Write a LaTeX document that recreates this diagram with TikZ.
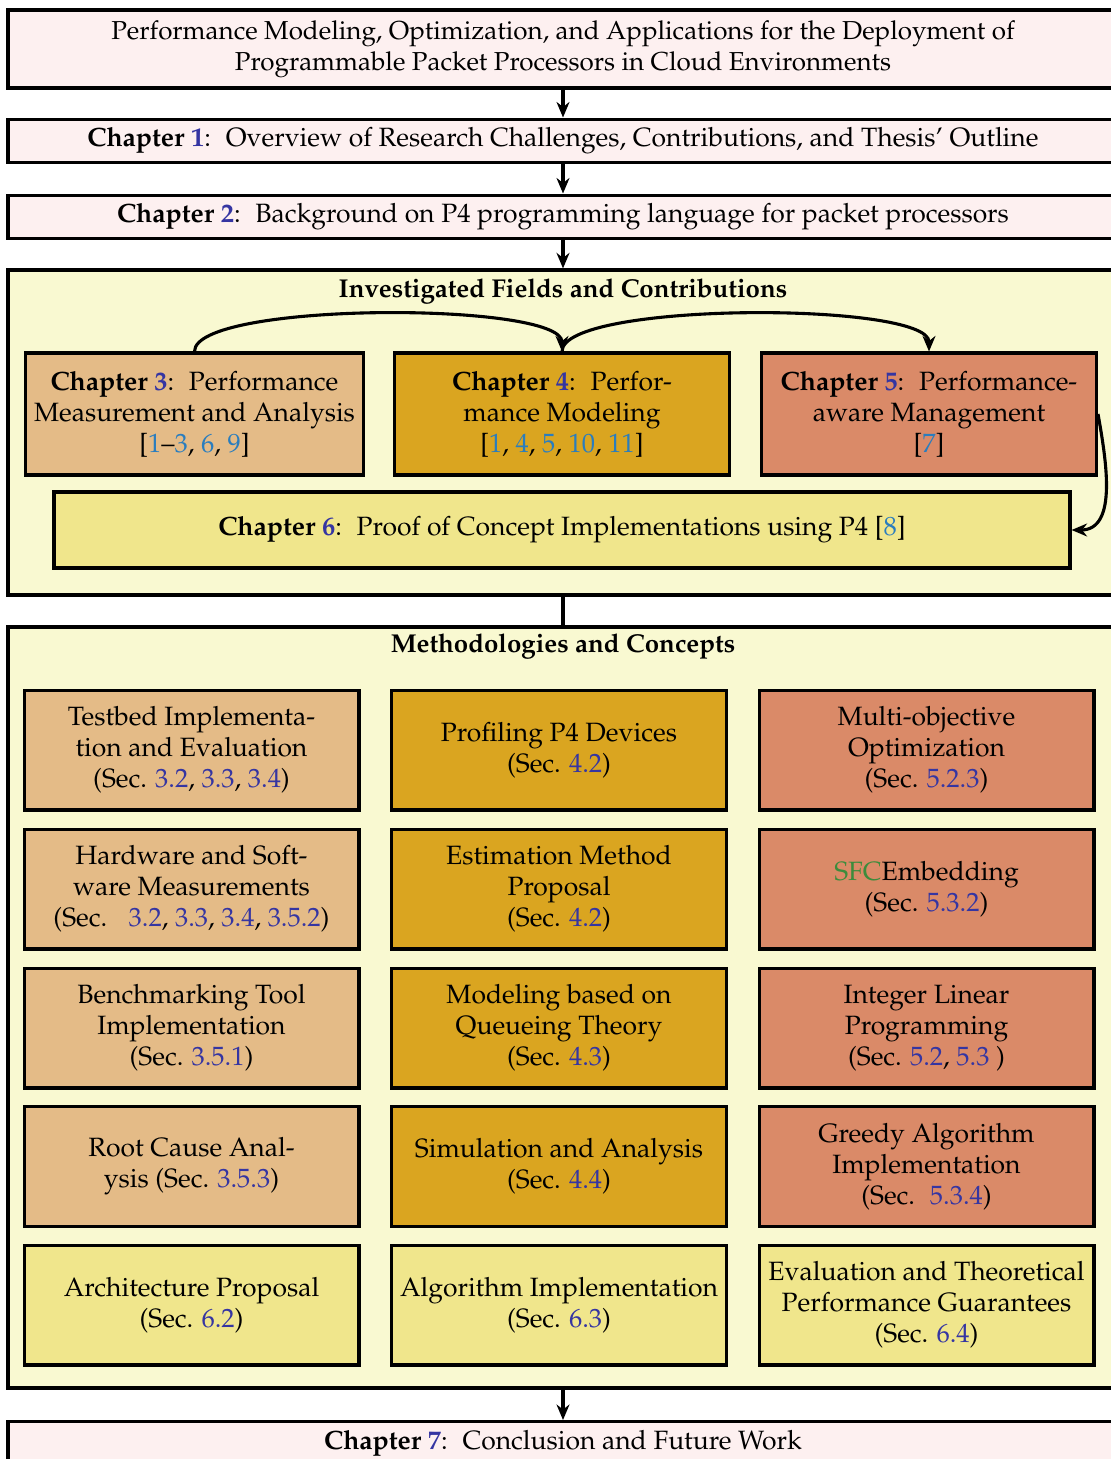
\documentclass[tikz,border=0pt]{standalone}
\usepackage[T1]{fontenc}
\usepackage{mathpazo}
\usepackage{xcolor}
\usepackage{tikz}
\usetikzlibrary{arrows.meta, positioning, calc}
\definecolor{thpink}{HTML}{FDF0F0}
\definecolor{thyellow}{HTML}{F9F9D1}
\definecolor{thburly}{HTML}{E4BB87}
\definecolor{thgold}{HTML}{DAA520}
\definecolor{thsalmon}{HTML}{DA8A68}
\definecolor{thkhaki}{HTML}{F0E68C}
\definecolor{thchap}{HTML}{3535A2}
\definecolor{thcite}{HTML}{2A7DBE}
\definecolor{thgreen}{HTML}{3C8C3C}
\newcommand{\chnum}[1]{\textcolor{thchap}{#1}}
\newcommand{\bibnum}[1]{\textcolor{thcite}{#1}}
\newcommand{\secnum}[1]{\textcolor{thchap}{#1}}

\tikzset{
  every node/.style={font=\fontsize{10.25pt}{12pt}\selectfont},
  chapbox/.style={draw=black, line width=1.2pt, fill=thpink, minimum width=429.6pt, align=center},
  groupbox/.style={draw=black, line width=1.2pt, fill=thyellow, minimum width=429.6pt},
  grouptitle/.style={font=\fontsize{10pt}{12pt}\selectfont\bfseries},
  fieldbox/.style={draw=black, line width=1.2pt, minimum width=129.6pt, minimum height=47.2pt, align=center},
  methbox/.style={fieldbox, minimum height=46.4pt},
  flow/.style={-{Stealth[length=6pt,width=5pt]}, line width=1.2pt},
}

\begin{document}
\begin{tikzpicture}[x=0.387pt, y=-0.387pt]
  \useasboundingbox (0,0) rectangle (1111,1459);

  % thesis title and first chapters
  \node[chapbox, minimum height=30.2pt, font=\fontsize{10.05pt}{12pt}\selectfont] (title) at (563,49) {Performance Modeling, Optimization, and Applications for the Deployment of\\Programmable Packet Processors in Cloud Environments};
  \node[chapbox, minimum height=16.3pt] (ch1) at (563,141) {\textbf{Chapter \chnum{1}}:~ Overview of Research Challenges, Contributions, and Thesis' Outline};
  \node[chapbox, minimum height=16.3pt] (ch2) at (563,217) {\textbf{Chapter \chnum{2}}:~ Background on P4 programming language for packet processors};

  % investigated fields
  \node[groupbox, minimum height=125.8pt] (fields) at (563,432.5) {};
  \node[grouptitle] (fieldstitle) at (563,291) {Investigated Fields and Contributions};
  \node[fieldbox, fill=thburly] (ch3) at (194.5,414) {\textbf{Chapter \chnum{3}}:~ Performance\\Measurement and Analysis\\{}[\bibnum{1}--\bibnum{3}, \bibnum{6}, \bibnum{9}]};
  \node[fieldbox, fill=thgold] (ch4) at (562,414) {\textbf{Chapter \chnum{4}}:~ Perfor-\\mance Modeling\\{}[\bibnum{1}, \bibnum{4}, \bibnum{5}, \bibnum{10}, \bibnum{11}]};
  \node[fieldbox, fill=thsalmon] (ch5) at (929,414) {\textbf{Chapter \chnum{5}}:~ Performance-\\aware Management\\{}[\bibnum{7}]};
  \node[fieldbox, fill=thkhaki, minimum width=393.2pt, minimum height=29.4pt] (ch6) at (562,530) {\textbf{Chapter \chnum{6}}:~ Proof of Concept Implementations using P4 [\bibnum{8}]};

  % methodologies
  \node[groupbox, minimum height=294.5pt] (methods) at (563,1007.5) {};
  \node[grouptitle] (methodstitle) at (563,646) {Methodologies and Concepts};

  \node[methbox, fill=thburly] (m11) at (191.5,750) {Testbed Implementa-\\tion and Evaluation\\(Sec. \secnum{3.2}, \secnum{3.3}, \secnum{3.4})};
  \node[methbox, fill=thburly] (m21) at (191.5,889) {Hardware and Soft-\\ware Measurements\\(Sec.~~ \secnum{3.2}, \secnum{3.3}, \secnum{3.4}, \secnum{3.5.2})};
  \node[methbox, fill=thburly] (m31) at (191.5,1028) {Benchmarking Tool\\Implementation\\(Sec. \secnum{3.5.1})};
  \node[methbox, fill=thburly] (m41) at (191.5,1166.5) {Root Cause Anal-\\ysis (Sec. \secnum{3.5.3})};
  \node[methbox, fill=thkhaki] (m51) at (191.5,1305) {Architecture Proposal\\(Sec. \secnum{6.2})};

  \node[methbox, fill=thgold] (m12) at (559,750) {Profiling P4 Devices\\(Sec. \secnum{4.2})};
  \node[methbox, fill=thgold] (m22) at (559,889) {Estimation Method\\Proposal\\(Sec. \secnum{4.2})};
  \node[methbox, fill=thgold] (m32) at (559,1028) {Modeling based on\\Queueing Theory\\(Sec. \secnum{4.3})};
  \node[methbox, fill=thgold] (m42) at (559,1166.5) {Simulation and Analysis\\(Sec. \secnum{4.4})};
  \node[methbox, fill=thkhaki] (m52) at (559,1305) {Algorithm Implementation\\(Sec. \secnum{6.3})};

  \node[methbox, fill=thsalmon] (m13) at (926.5,750) {Multi-objective\\Optimization\\(Sec. \secnum{5.2.3})};
  \node[methbox, fill=thsalmon] (m23) at (926.5,889) {\textcolor{thgreen}{SFC}Embedding\\(Sec. \secnum{5.3.2})};
  \node[methbox, fill=thsalmon] (m33) at (926.5,1028) {Integer Linear\\Programming\\(Sec. \secnum{5.2}, \secnum{5.3}~)};
  \node[methbox, fill=thsalmon] (m43) at (926.5,1166.5) {Greedy Algorithm\\Implementation\\(Sec.~ \secnum{5.3.4})};
  \node[methbox, fill=thkhaki] (m53) at (926.5,1305) {Evaluation and Theoretical\\Performance Guarantees\\(Sec. \secnum{6.4})};

  % conclusion
  \node[chapbox, minimum height=16.3pt, anchor=north] (ch7) at (563,1420) {\textbf{Chapter \chnum{7}}:~ Conclusion and Future Work};

  % connectors
  \draw[flow] (title) -- (ch1);
  \draw[flow] (ch1) -- (ch2);
  \draw[flow] (ch2) -- (fields);
  \draw[line width=1.2pt] (fields) -- (methods);
  \draw[flow] (methods) -- (ch7);
  \draw[flow] (ch3.north) to[out=90, in=90, looseness=0.35] (ch4.north);
  \draw[flow] (ch4.north) to[out=90, in=90, looseness=0.35] (ch5.north);
  \draw[flow] (ch5.east) to[out=-80, in=0] (ch6.east);
\end{tikzpicture}
\end{document}
